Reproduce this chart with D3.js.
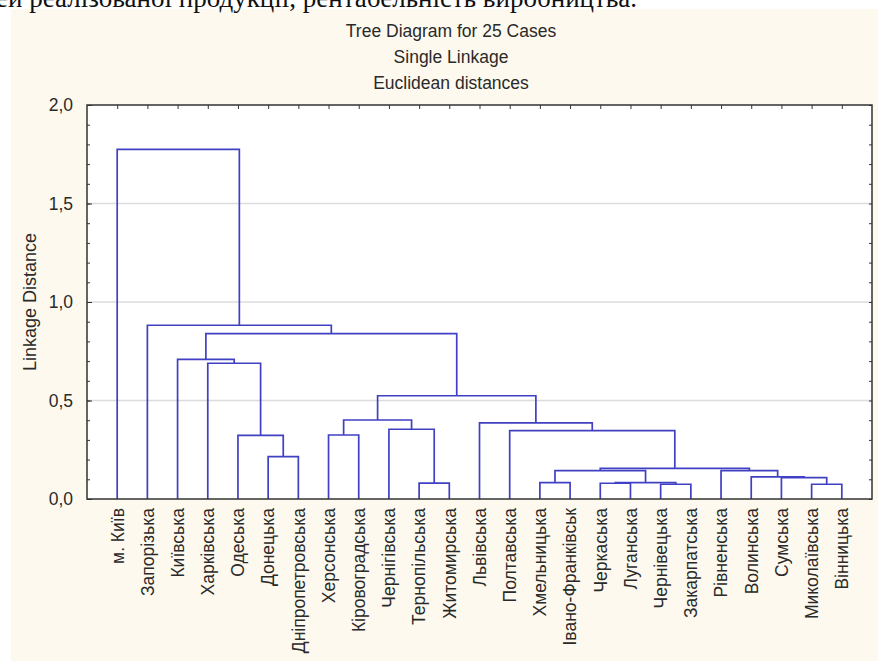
<!DOCTYPE html>
<html>
<head>
<meta charset="utf-8">
<script src="https://cdn.jsdelivr.net/npm/d3@7"></script>
<style>
  body { margin: 0; background: #fff; }
  svg { display: block; }
</style>
</head>
<body>
<svg id="chart" width="878" height="661"></svg>
<script>
// leaves in dendrogram order
let leaves = ["м. Київ", "Запорізька", "Київська", "Харківська", "Одеська", "Донецька",
	"Дніпропетровська", "Херсонська", "Кіровоградська", "Чернігівська", "Тернопільська",
	"Житомирська", "Львівська", "Полтавська", "Хмельницька", "Івано-Франківськ",
	"Черкаська", "Луганська", "Чернівецька", "Закарпатська", "Рівненська", "Волинська",
	"Сумська", "Миколаївська", "Вінницька"];

// merges: [left id, right id, linkage distance]; new clusters get ids 25, 26, ...
let merges = [
	[23, 24, 0.075], [18, 19, 0.075], [16, 17, 0.080], [10, 11, 0.081],
	[14, 15, 0.083], [27, 26, 0.083], [22, 25, 0.108], [21, 31, 0.112],
	[29, 30, 0.144], [20, 32, 0.144], [33, 34, 0.155], [5, 6, 0.215],
	[4, 36, 0.323], [7, 8, 0.325], [13, 35, 0.347], [9, 28, 0.354],
	[12, 39, 0.386], [38, 40, 0.401], [42, 41, 0.524], [3, 37, 0.689],
	[2, 44, 0.709], [45, 43, 0.839], [1, 46, 0.882], [0, 47, 1.775]
];

let yTicks = [0, 0.5, 1.0, 1.5, 2.0];
let titleLines = ["Tree Diagram for 25 Cases", "Single Linkage", "Euclidean distances"];
let yTitle = "Linkage Distance";
let topText = "ей реалізованої продукції, рентабельність виробництва.";

let svg = d3.select("#chart");
let pLeft = 87, pRight = 872, pTop = 105, pBottom = 499;
let lineColor = "#4040c4";
let sans = "'Liberation Sans', Arial, sans-serif";

let x = d3.scalePoint().domain(d3.range(leaves.length)).range([pLeft, pRight]).padding(1);
let y = d3.scaleLinear().domain([0, 2]).range([pBottom, pTop]);
let fmt = d3.formatLocale({decimal: ",", thousands: " ", grouping: [3], currency: ["", ""]}).format(".1f");

// backgrounds
svg.append("rect").attr("x", 11).attr("y", 9).attr("width", 867).attr("height", 652).attr("fill", "#fdf9ee");
svg.append("text").attr("x", -4).attr("y", 7)
	.style("font-family", "'Liberation Serif', 'Times New Roman', serif").style("font-size", "27px")
	.attr("fill", "#111").text(topText);
svg.append("rect").attr("x", pLeft).attr("y", pTop).attr("width", pRight - pLeft).attr("height", pBottom - pTop).attr("fill", "#fff");

// grid
svg.append("g").selectAll("line").data(yTicks.filter((d) => d > 0 && d < 2)).enter().append("line")
	.attr("x1", pLeft).attr("x2", pRight).attr("y1", (d) => y(d)).attr("y2", (d) => y(d))
	.attr("stroke", "#dcdcdc").attr("stroke-width", 1.5);

// titles
svg.append("g").selectAll("text").data(titleLines).enter().append("text")
	.attr("x", 451).attr("y", (d, i) => 37 + i * 26)
	.attr("text-anchor", "middle")
	.style("font-family", sans).style("font-size", "17.5px")
	.attr("fill", "#2a2a2a").text((d) => d);

// y axis
let axisFont = (sel) => sel.selectAll("text").style("font-family", sans).style("font-size", "17.5px").attr("fill", "#2a2a2a");
svg.append("g").attr("transform", `translate(${pLeft},0)`)
	.call(d3.axisLeft(y).tickValues(yTicks).tickFormat(fmt).tickSize(-5).tickPadding(14))
	.call((g) => g.select(".domain").remove())
	.call(axisFont);
svg.append("g").attr("transform", `translate(${pLeft},0)`)
	.call(d3.axisLeft(y).ticks(20).tickFormat("").tickSize(-3))
	.call((g) => g.select(".domain").remove());
svg.append("g").attr("transform", `translate(${pRight},0)`)
	.call(d3.axisRight(y).ticks(20).tickFormat("").tickSize(-3))
	.call((g) => g.select(".domain").remove());
svg.append("g").attr("transform", `translate(0,${pTop})`)
	.call(d3.axisTop(x).tickFormat("").tickSize(-4))
	.call((g) => g.select(".domain").remove());
svg.selectAll(".tick line").attr("stroke", "#333");

svg.append("text")
	.attr("transform", `translate(36,${(pTop + pBottom) / 2}) rotate(-90)`)
	.attr("text-anchor", "middle")
	.style("font-family", sans).style("font-size", "18px")
	.attr("fill", "#2a2a2a").text(yTitle);

// dendrogram
let nodeX = leaves.map((d, i) => x(i));
let nodeH = leaves.map(() => 0);
let paths = [];
for (let [a, b, h] of merges) {
	paths.push(`M${nodeX[a]},${y(nodeH[a])}V${y(h)}H${nodeX[b]}V${y(nodeH[b])}`);
	nodeX.push((nodeX[a] + nodeX[b]) / 2);
	nodeH.push(h);
}
svg.append("g").selectAll("path").data(paths).enter().append("path")
	.attr("d", (d) => d).attr("fill", "none")
	.attr("stroke", lineColor).attr("stroke-width", 1.7);

// frame
svg.append("rect").attr("x", pLeft).attr("y", pTop).attr("width", pRight - pLeft).attr("height", pBottom - pTop)
	.attr("fill", "none").attr("stroke", "#333").attr("stroke-width", 1.5);

// leaf labels
svg.append("g").selectAll("text").data(leaves).enter().append("text")
	.attr("transform", (d, i) => `translate(${x(i)},508) rotate(-90)`)
	.attr("text-anchor", "end").attr("dy", "0.36em")
	.style("font-family", sans).style("font-size", "17.5px")
	.attr("fill", "#2a2a2a").text((d) => d);
</script>
</body>
</html>
